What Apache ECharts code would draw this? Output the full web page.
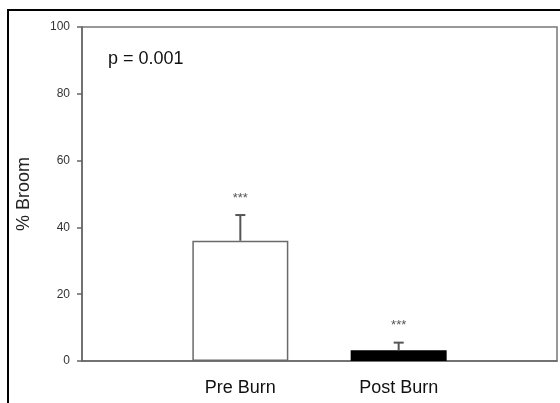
<!DOCTYPE html>
<html>
<head>
<meta charset="utf-8">
<script src="https://cdn.jsdelivr.net/npm/echarts@6/dist/echarts.min.js"></script>
<style>html,body{margin:0;padding:0;background:#fff;}#chart{width:560px;height:403px;}</style>
</head>
<body>
<div id="chart"></div>
<script>
var categories = ['', 'Pre Burn', 'Post Burn', ''];
var means = [null, 36, 3.2, null];
var errors = [null, 7.7, 2.3, null];
var significance = ['', '***', '***', ''];
var barColors = [null, '#ffffff', '#000000', null];
var yTicks = [0, 20, 40, 60, 80, 100];
var pText = 'p = 0.001';
var yName = '% Broom';

var chart = echarts.init(document.getElementById('chart'), null, {renderer: 'canvas'});
var barData = means.map(function (v, i) {
  if (v === null) return null;
  return {value: v, itemStyle: {color: barColors[i], borderColor: i === 1 ? '#6a6a6a' : '#000', borderWidth: 1.5}};
});
var errData = means.map(function (v, i) { return v === null ? null : [i, v, errors[i]]; }).filter(function (d) { return d; });

chart.setOption({
  animation: false,
  backgroundColor: '#fff',
  grid: {left: 82, top: 27, right: 2, bottom: 42, show: true, borderColor: '#777', borderWidth: 1.5},
  xAxis: {
    type: 'category', data: categories, boundaryGap: false,
    axisLine: {lineStyle: {color: '#666', width: 1.5}},
    axisTick: {show: false},
    splitLine: {show: false},
    axisLabel: {fontFamily: 'Liberation Sans, Arial', fontSize: 18, color: '#111', margin: 18, interval: 0}
  },
  yAxis: {
    type: 'value', min: yTicks[0], max: yTicks[yTicks.length - 1], interval: 20,
    name: yName, nameLocation: 'middle', nameGap: 49,
    nameTextStyle: {fontFamily: 'Liberation Sans, Arial', fontSize: 18, color: '#222'},
    axisLine: {show: true, lineStyle: {color: '#666', width: 1.5}},
    axisTick: {show: true, length: 5, lineStyle: {color: '#666', width: 1.5}},
    splitLine: {show: false},
    axisLabel: {fontFamily: 'Liberation Sans, Arial', fontSize: 12, color: '#333', margin: 12}
  },
  graphic: [
    {type: 'rect', shape: {x: 8, y: 10, width: 700, height: 600}, style: {fill: null, stroke: '#000', lineWidth: 2}, z: 100},
    {type: 'text', left: 108, top: 50, style: {text: pText, font: '18px "Liberation Sans", Arial', fill: '#111'}}
  ],
  series: [
    {type: 'bar', data: barData, barWidth: 96, z: 2},
    {
      type: 'custom', z: 3, data: errData,
      renderItem: function (params, api) {
        var x = api.value(0), m = api.value(1), e = api.value(2);
        var b = api.coord([x, m]);
        var t = api.coord([x, m + e]);
        return {type: 'group', children: [
          {type: 'line', shape: {x1: b[0], y1: b[1], x2: t[0], y2: t[1]}, style: {stroke: '#555', lineWidth: 2}},
          {type: 'line', shape: {x1: t[0] - 5, y1: t[1], x2: t[0] + 5, y2: t[1]}, style: {stroke: '#555', lineWidth: 2}},
          {type: 'text', style: {text: significance[x], x: t[0], y: t[1] - 17, align: 'center', verticalAlign: 'middle', font: '13px "Liberation Sans", Arial', fill: '#555'}}
        ]};
      }
    }
  ]
});
</script>
</body>
</html>
